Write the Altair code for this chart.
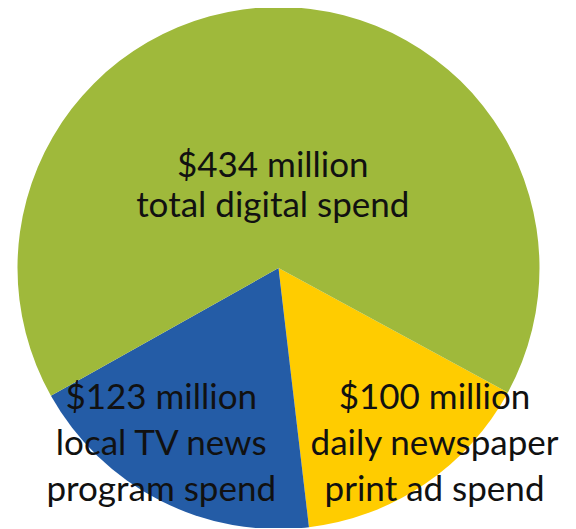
import math
import altair as alt
import pandas as pd

categories = ["Daily newspaper", "Local TV news", "Digital"]
values = [100, 123, 434]
labels = [
    "$100 million\ndaily newspaper\nprint ad spend",
    "$123 million\nlocal TV news\nprogram spend",
    "$434 million\ntotal digital spend",
]
colors = ["#FFCC00", "#245CA6", "#9FB93B"]

df = pd.DataFrame({
    "category": categories,
    "value": values,
    "label": labels,
    "idx": list(range(len(categories))),
})

start = math.radians(118.5)
theta = alt.Theta("value:Q", stack=True, scale=alt.Scale(range=[start, start + 2 * math.pi]))
order = alt.Order("idx:Q")

base = alt.Chart(df).encode(theta=theta, order=order)

pie = base.mark_arc(radius=261, stroke=None).encode(
    color=alt.Color("category:N", scale=alt.Scale(domain=categories, range=colors), legend=None)
)

def label_layer(cat, radius, dx, line_height):
    return base.mark_text(
        radius=radius, dx=dx, font="Lato", fontSize=35, color="#111111",
        lineBreak="\n", lineHeight=line_height, align="center", baseline="middle",
    ).encode(
        text=alt.condition(alt.datum.category == cat, alt.Text("label:N"), alt.value(""))
    )

chart = alt.layer(
    pie,
    label_layer("Digital", 102, -5, 40),
    label_layer("Local TV news", 146, -51, 46),
    label_layer("Daily newspaper", 157, 68, 46),
).properties(
    width=541, height=520,
    padding={"left": 0, "top": 0, "right": 18, "bottom": 0},
    autosize=alt.AutoSizeParams(type="none"),
).configure_view(stroke=None)

chart.save("out.html", embed_options={"renderer": "svg", "actions": False})
